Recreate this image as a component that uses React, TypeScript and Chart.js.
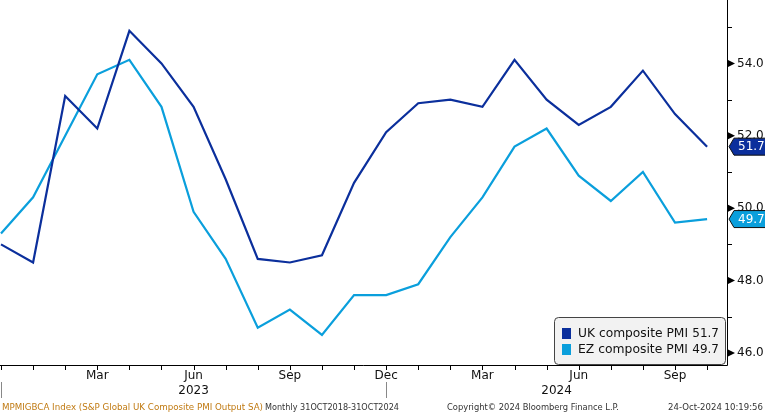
import React, { useEffect, useRef } from "react";
import { Chart, registerables } from "chart.js";

Chart.register(...registerables);

const months = ["Dec", "Jan", "Feb", "Mar", "Apr", "May", "Jun", "Jul", "Aug", "Sep", "Oct", "Nov",
  "Dec", "Jan", "Feb", "Mar", "Apr", "May", "Jun", "Jul", "Aug", "Sep", "Oct"];
const ukPMI = [49.0, 48.5, 53.1, 52.2, 54.9, 54.0, 52.8, 50.8, 48.6, 48.5, 48.7, 50.7,
  52.1, 52.9, 53.0, 52.8, 54.1, 53.0, 52.3, 52.8, 53.8, 52.6, 51.7];
const ezPMI = [49.3, 50.3, 52.0, 53.7, 54.1, 52.8, 49.9, 48.6, 46.7, 47.2, 46.5, 47.6,
  47.6, 47.9, 49.2, 50.3, 51.7, 52.2, 50.9, 50.2, 51.0, 49.6, 49.7];
const labeledMonths = ["Mar", "Jun", "Sep", "Dec"];
const yMajorTicks = [46, 48, 50, 52, 54];
const yMinorTicks = [47, 49, 51, 53, 55];
const yearLabels = ["2023", "2024"];
const yearStarts = [0, 12];
const seriesNames = ["UK composite PMI", "EZ composite PMI"];
const seriesColors = ["#0b2f9c", "#0a9fdc"];

const X_MIN = -0.031;
const X_MAX = 22.62;
const Y_MIN = 45.669;
const Y_MAX = 55.751;

const FONT = "'DejaVu Sans', sans-serif";

const overlayPlugin = {
  id: "overlay",
  afterDatasetsDraw(chart: any) {
    const { ctx, chartArea, scales } = chart;
    const { right, bottom } = chartArea;
    const x = scales.x;
    const y = scales.y;
    ctx.save();

    // Legend box
    const lx = 554.5, ly = 317.5, lw = 171, lh = 47;
    ctx.beginPath();
    ctx.roundRect(lx, ly, lw, lh, 4);
    ctx.fillStyle = "#f2f2f2";
    ctx.fill();
    ctx.strokeStyle = "#444";
    ctx.lineWidth = 1;
    ctx.stroke();
    const series = [ukPMI, ezPMI];
    ctx.textBaseline = "middle";
    for (let s = 0; s < 2; s++) {
      const cy = 333 + s * 16;
      ctx.fillStyle = seriesColors[s];
      ctx.fillRect(562, cy - 5, 9, 11);
      ctx.fillStyle = "#111";
      ctx.textAlign = "left";
      ctx.font = `12.5px ${FONT}`;
      ctx.fillText(seriesNames[s], 578, cy + 0.5, 110);
      ctx.textAlign = "right";
      ctx.font = `12px ${FONT}`;
      ctx.fillText(series[s][series[s].length - 1].toFixed(1), 719, cy + 0.5);
    }

    // Axes lines
    ctx.strokeStyle = "#000";
    ctx.lineWidth = 1;
    ctx.beginPath();
    ctx.moveTo(Math.round(right) + 0.5, 0);
    ctx.lineTo(Math.round(right) + 0.5, Math.round(bottom) + 0.5);
    ctx.moveTo(0, Math.round(bottom) + 0.5);
    ctx.lineTo(Math.round(right) + 0.5, Math.round(bottom) + 0.5);
    ctx.stroke();

    // Month ticks & labels
    ctx.beginPath();
    for (let i = 0; i < months.length; i++) {
      const px = Math.round(x.getPixelForValue(i)) + 0.5;
      if (px > right) continue;
      ctx.moveTo(px, Math.round(bottom));
      ctx.lineTo(px, Math.round(bottom) + 5);
    }
    ctx.stroke();
    ctx.fillStyle = "#111";
    ctx.font = `12px ${FONT}`;
    ctx.textAlign = "center";
    ctx.textBaseline = "middle";
    for (let i = 1; i < months.length; i++) {
      if (labeledMonths.includes(months[i])) {
        ctx.fillText(months[i], x.getPixelForValue(i), 376);
      }
    }
    // Years
    for (let k = 0; k < yearLabels.length; k++) {
      const from = yearStarts[k];
      const to = k + 1 < yearStarts.length ? yearStarts[k + 1] : X_MAX;
      const cx = (x.getPixelForValue(from) + x.getPixelForValue(to)) / 2;
      ctx.fillStyle = "#111";
      ctx.fillText(yearLabels[k], cx, 391);
      const sx = Math.round(x.getPixelForValue(from)) + 0.5;
      ctx.strokeStyle = "#888";
      ctx.beginPath();
      ctx.moveTo(Math.max(sx, 1.5), 382);
      ctx.lineTo(Math.max(sx, 1.5), 398);
      ctx.stroke();
    }

    // Y axis ticks
    ctx.strokeStyle = "#000";
    ctx.beginPath();
    for (const v of yMinorTicks) {
      const py = Math.round(y.getPixelForValue(v)) + 0.5;
      ctx.moveTo(right + 1, py);
      ctx.lineTo(right + 5, py);
    }
    ctx.stroke();
    ctx.fillStyle = "#000";
    for (const v of yMajorTicks) {
      const py = y.getPixelForValue(v);
      ctx.beginPath();
      ctx.moveTo(right + 1, py - 3.5);
      ctx.lineTo(right + 8, py);
      ctx.lineTo(right + 1, py + 3.5);
      ctx.closePath();
      ctx.fill();
    }
    ctx.fillStyle = "#111";
    ctx.textAlign = "left";
    ctx.font = `12px ${FONT}`;
    for (const v of yMajorTicks) {
      ctx.fillText(v.toFixed(1), right + 10, y.getPixelForValue(v));
    }

    // Last value badges
    for (let s = 0; s < 2; s++) {
      const last = series[s][series[s].length - 1];
      const py = y.getPixelForValue(last);
      const bx = right + 2;
      ctx.beginPath();
      ctx.moveTo(bx, py);
      ctx.lineTo(bx + 5, py - 8.5);
      ctx.lineTo(766, py - 8.5);
      ctx.lineTo(766, py + 8.5);
      ctx.lineTo(bx + 5, py + 8.5);
      ctx.closePath();
      ctx.fillStyle = seriesColors[s];
      ctx.fill();
      ctx.strokeStyle = "#111";
      ctx.stroke();
      ctx.fillStyle = "#fff";
      ctx.textAlign = "left";
      ctx.fillText(last.toFixed(1), bx + 9, py + 0.5);
    }

    // Footer
    ctx.font = `9px ${FONT}`;
    ctx.textBaseline = "middle";
    ctx.textAlign = "left";
    ctx.fillStyle = "#c07a12";
    ctx.fillText("MPMIGBCA Index (S&P Global UK Composite PMI Output SA)", 2, 408, 261);
    ctx.fillStyle = "#333";
    ctx.fillText("Monthly 31OCT2018-31OCT2024", 265, 408, 134);
    ctx.fillText("Copyright\u00A9 2024 Bloomberg Finance L.P.", 447, 408, 172);
    ctx.fillText("24-Oct-2024 10:19:56", 668, 408, 95);

    ctx.restore();
  },
};

export default function App() {
  const canvasRef = useRef<HTMLCanvasElement | null>(null);
  useEffect(() => {
    const canvas = canvasRef.current;
    if (!canvas) return;
    const chart = new Chart(canvas, {
      type: "line",
      data: {
        datasets: [
          {
            label: seriesNames[0],
            data: ukPMI.map((v, i) => ({ x: i, y: v })),
            borderColor: seriesColors[0],
            borderWidth: 2.2,
            pointRadius: 0,
            tension: 0,
          },
          {
            label: seriesNames[1],
            data: ezPMI.map((v, i) => ({ x: i, y: v })),
            borderColor: seriesColors[1],
            borderWidth: 2.2,
            pointRadius: 0,
            tension: 0,
          },
        ],
      },
      options: {
        responsive: false,
        animation: false,
        devicePixelRatio: 1,
        layout: { padding: { left: 0, right: 38, top: 0, bottom: 50 } },
        plugins: { legend: { display: false }, tooltip: { enabled: false } },
        scales: {
          x: { type: "linear", min: X_MIN, max: X_MAX, display: false },
          y: { type: "linear", min: Y_MIN, max: Y_MAX, display: false },
        },
      },
      plugins: [overlayPlugin],
    });
    return () => chart.destroy();
  }, []);
  return (
    <div style={{ position: "fixed", left: 0, top: 0, width: 765, height: 415, background: "#fff" }}>
      <canvas ref={canvasRef} width={765} height={415} style={{ display: "block" }} />
    </div>
  );
}
